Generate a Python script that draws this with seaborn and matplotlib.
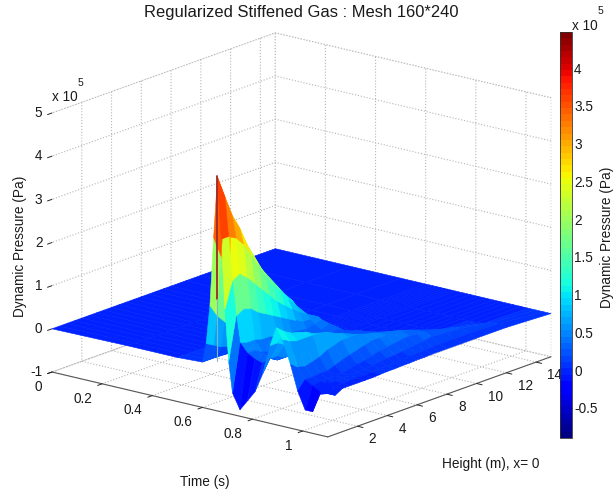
import numpy as np
import matplotlib
matplotlib.use("Agg")
import matplotlib.pyplot as plt
from matplotlib.colors import Normalize
from matplotlib.cm import ScalarMappable
from mpl_toolkits.mplot3d import proj3d
import seaborn as sns

sns.set_style("white")
plt.rcParams["font.family"] = ["Liberation Sans", "DejaVu Sans"]

time_s = [0, .3, .5, .6, .615, .63, .645, .66, .675, .69, .705, .72, .75, .78, .81, .84, .87, .895, .92, .95, .98, 1.01, 1.04, 1.07, 1.1]
height_m = [0, .5, 1, 1.5, 2, 2.5, 3, 3.5, 4, 4.5, 5, 5.5, 6, 6.5, 7, 7.5, 8, 9, 10, 12, 15]
# dynamic pressure in units of 1e5 Pa, one row per height
p_h00 = [0, .02, .02, .05, .5, 1.4, 3.0, 4.42, 3.0, 1.4, .2, -.5, -.85, -.6, -.35, .1, .8, 1.25, 1.0, .5, -.1, -.5, -.5, -.05, .3]
p_h05 = [0, .02, .02, .05, .4, 1.1, 2.5, 3.9, 3.0, 2.0, 1.2, .6, .4, .3, .25, .4, .8, 1.1, .9, .35, .1, 0, -.1, -.1, -.1]
p_h10 = [0, .01, .02, .05, .3, .9, 2.0, 3.4, 2.9, 2.1, 1.3, .55, .4, .3, .3, .4, .7, 1.0, .85, .3, .1, .05, .02, 0, 0]
p_h15 = [0, .01, .02, .04, .25, .75, 1.7, 3.05, 2.7, 1.95, 1.25, .55, .3, .2, .2, .3, .65, .95, .85, .35, .12, .05, .03, .02, 0]
p_h20 = [0, .01, .01, .03, .2, .6, 1.4, 2.6, 2.4, 1.75, 1.1, .5, .25, .2, .2, .3, .6, .9, .85, .4, .12, .05, .03, .02, 0]
p_h25 = [0, .01, .01, .02, .17, .5, 1.2, 2.25, 2.1, 1.55, 1.0, .5, .22, .18, .2, .3, .5, .8, .85, .5, .18, .05, .03, .02, 0]
p_h30 = [0, .01, .01, .02, .15, .4, 1.0, 1.9, 1.8, 1.35, .9, .45, .2, .18, .2, .3, .45, .7, .8, .55, .25, .1, .05, .02, 0]
p_h35 = [0, .01, .01, .02, .12, .35, .85, 1.65, 1.5, 1.15, .8, .42, .2, .18, .18, .27, .4, .6, .72, .6, .3, .12, .06, .03, .01]
p_h40 = [0, 0, .01, .02, .1, .3, .7, 1.4, 1.3, 1.0, .7, .4, .2, .16, .16, .22, .35, .5, .65, .6, .35, .15, .08, .05, .02]
p_h45 = [0, 0, .01, .01, .07, .25, .55, 1.15, 1.05, .85, .6, .38, .18, .12, .13, .2, .32, .45, .58, .6, .4, .2, .1, .05, .02]
p_h50 = [0, 0, .01, .01, .05, .2, .45, .95, .85, .7, .5, .35, .2, .15, .15, .2, .3, .4, .5, .55, .45, .25, .12, .06, .03]
p_h55 = [0, 0, 0, .01, .03, .13, .3, .65, .65, .6, .5, .4, .3, .22, .2, .22, .3, .38, .45, .5, .45, .28, .13, .07, .03]
p_h60 = [0, 0, 0, .01, .02, .08, .18, .3, .45, .5, .5, .45, .4, .3, .25, .25, .3, .35, .4, .45, .45, .3, .15, .08, .04]
p_h65 = [0, 0, 0, 0, 0, .02, .05, .1, .2, .25, .27, .27, .27, .22, .22, .23, .27, .32, .36, .42, .43, .33, .18, .09, .04]
p_h70 = [0, 0, 0, 0, 0, 0, 0, 0, 0, 0, .02, .05, .1, .15, .2, .22, .25, .28, .32, .38, .4, .35, .2, .1, .05]
p_h75 = [0, 0, 0, 0, 0, 0, 0, 0, 0, 0, 0, .02, .04, .07, .1, .12, .17, .22, .27, .33, .36, .33, .22, .11, .05]
p_h80 = [0, 0, 0, 0, 0, 0, 0, 0, 0, 0, 0, 0, 0, 0, .01, .03, .08, .15, .22, .28, .32, .32, .25, .12, .05]
p_h90 = [0, 0, 0, 0, 0, 0, 0, 0, 0, 0, 0, 0, 0, 0, 0, 0, 0, .02, .05, .12, .2, .25, .22, .12, .05]
p_h100 = [0, 0, 0, 0, 0, 0, 0, 0, 0, 0, 0, 0, 0, 0, 0, 0, 0, 0, 0, .02, .1, .18, .2, .12, .05]
p_h120 = [0, 0, 0, 0, 0, 0, 0, 0, 0, 0, 0, 0, 0, 0, 0, 0, 0, 0, 0, 0, 0, .02, .08, .1, .05]
p_h150 = [0, 0, 0, 0, 0, 0, 0, 0, 0, 0, 0, 0, 0, 0, 0, 0, 0, 0, 0, 0, 0, 0, 0, 0, 0]
spike_t = [.66, .66]
spike_h = [0, 0]
spike_upper_z = [4.45, 1.6]
spike_lower_z = [1.6, .15]
x_ticks = [0, .2, .4, .6, .8, 1]
y_ticks = [2, 4, 6, 8, 10, 12, 14]
z_ticks = [-1, 0, 1, 2, 3, 4, 5]
cbar_ticks = [-.5, 0, .5, 1, 1.5, 2, 2.5, 3, 3.5, 4]
cbar_labels = ["-0.5", "0", "0.5", "1", "1.5", "2", "2.5", "3", "3.5", "4"]

W, H = 615, 496
TXT = "#1a1a1a"
FS = 9.8
fig = plt.figure(figsize=(W / 100, H / 100), dpi=100)
ax = fig.add_axes([0, 0, 1, 1], projection="3d", computed_zorder=False)
ax.set_proj_type("ortho")
ax.view_init(elev=16.9, azim=-51)
ax.set_box_aspect((1, 1, 0.763))
ax.set_xlim(0, 1.1)
ax.set_ylim(0, 15)
ax.set_zlim(-1, 5)

T, Y = np.meshgrid(time_s, height_m)
Z = np.array([p_h00, p_h05, p_h10, p_h15, p_h20, p_h25, p_h30, p_h35, p_h40, p_h45, p_h50, p_h55, p_h60,
              p_h65, p_h70, p_h75, p_h80, p_h90, p_h100, p_h120, p_h150])
cmap = matplotlib.colormaps["jet"].resampled(64)
norm = Normalize(-0.9, 4.48)
Zface = (Z[:-1, :-1] + Z[1:, :-1] + Z[:-1, 1:] + Z[1:, 1:]) / 4
ax.plot_surface(T, Y, Z, facecolors=cmap(norm(Zface)), rstride=1, cstride=1, linewidth=0.4,
                antialiased=True, shade=False, zorder=1)
ax.plot(spike_t, spike_h, spike_upper_z, color="#9c2a26", lw=1.3, zorder=3)
ax.plot(spike_t, spike_h, spike_lower_z, color="#7fb8c4", lw=0.8, zorder=3)

ax.set_xticks(x_ticks)
ax.set_yticks(y_ticks)
ax.set_zticks(z_ticks)
ax.set_xticklabels(["0", "0.2", "0.4", "0.6", "0.8", "1"], ha="right", va="center")
ax.set_yticklabels([str(v) for v in y_ticks], ha="left", va="center")
ax.set_zticklabels([str(v) for v in z_ticks], ha="right", va="center")
ax.zaxis.set_ticks_position("lower")
for axis in (ax.xaxis, ax.yaxis, ax.zaxis):
    axis.pane.set_facecolor((1, 1, 1, 0))
    axis.pane.set_edgecolor("#b5b5b5")
    axis.pane.set_linestyle(":")
    axis.pane.set_linewidth(0.8)
    axis.line.set_color("#555555")
    axis.line.set_linewidth(0.8)
    axis._axinfo["grid"].update(color="#b5b5b5", linestyle=":", linewidth=0.8)
    axis._axinfo["tick"].update(inward_factor=0.25, outward_factor=0.0, linewidth={True: 0.7, False: 0.7}, color="#555555")
ax.zaxis.line.set_color((1, 1, 1, 0))
ax.tick_params(axis="both", labelsize=FS, labelcolor=TXT)
ax.tick_params(axis="x", pad=1)
ax.tick_params(axis="y", pad=0.5)
ax.tick_params(axis="z", pad=-4)


def to_px(p):
    x, y, _ = proj3d.proj_transform(p[0], p[1], p[2], ax.get_proj())
    return ax.transData.transform((x, y))


# fit the 3D box onto the reference frame: floor corners left and right
tA = np.array([52, H - 372.0])
tC = np.array([551, H - 357.0])
size, l, b = 500.0, 50.0, 0.0
for _ in range(4):
    ax.set_position([l / W, b / H, size / W, size / H])
    ax.apply_aspect()
    A, C = to_px((0, 0, -1)), to_px((1.1, 15, -1))
    size *= np.linalg.norm(tC - tA) / np.linalg.norm(C - A)
    ax.set_position([l / W, b / H, size / W, size / H])
    ax.apply_aspect()
    A = to_px((0, 0, -1))
    l += tA[0] - A[0]
    b += tA[1] - A[1]
ax.set_position([l / W, b / H, size / W, size / H])

fig.text(301 / W, 1 - 13 / H, "Regularized Stiffened Gas : Mesh 160*240", ha="center", va="center", fontsize=11.85, color=TXT)
fig.text(20 / W, 1 - 246 / H, "Dynamic Pressure (Pa)", rotation=90, ha="center", va="center", fontsize=FS, color=TXT)
fig.text(205 / W, 1 - 482 / H, "Time (s)", ha="center", va="center", fontsize=FS, color=TXT)
fig.text(491 / W, 1 - 464 / H, "Height (m), x= 0", ha="center", va="center", fontsize=FS, color=TXT)
fig.text(52 / W, 1 - 97 / H, "x 10", ha="left", va="center", fontsize=FS, color=TXT)
fig.text(78 / W, 1 - 83 / H, "5", ha="left", va="center", fontsize=7.5, color=TXT)

cax = fig.add_axes([560 / W, 1 - 438 / H, 12 / W, 406 / H])
cb = fig.colorbar(ScalarMappable(norm=norm, cmap=cmap), cax=cax)
cb.set_ticks(cbar_ticks)
cb.set_ticklabels(cbar_labels)
cax.tick_params(axis="y", direction="in", left=True, right=True, length=2.5, width=0.6, color="#333333",
                labelsize=FS, labelcolor=TXT, pad=1.5)
cb.outline.set_linewidth(0.6)
cb.outline.set_edgecolor("#333333")
fig.text(607 / W, 1 - 237 / H, "Dynamic Pressure (Pa)", rotation=90, ha="center", va="center", fontsize=FS, color=TXT)
fig.text(572 / W, 1 - 26 / H, "x 10", ha="left", va="center", fontsize=FS, color=TXT)
fig.text(598 / W, 1 - 11 / H, "5", ha="left", va="center", fontsize=7.5, color=TXT)

fig.savefig("out.png", dpi=100)
